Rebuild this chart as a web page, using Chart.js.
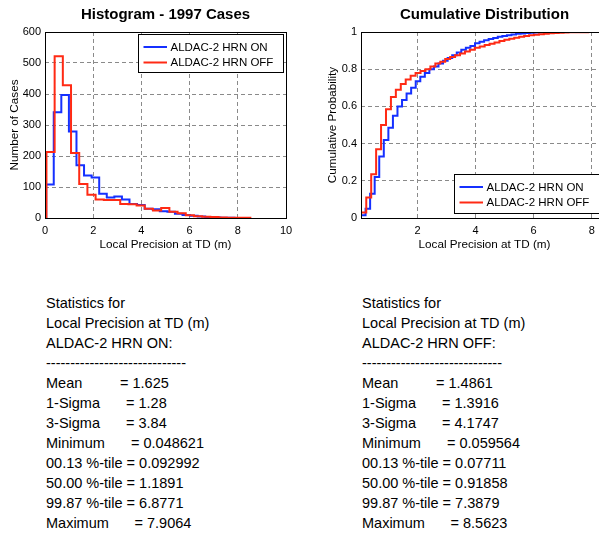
<!DOCTYPE html>
<html>
<head>
<meta charset="utf-8">
<script src="https://cdn.jsdelivr.net/npm/chart.js@4"></script>
<style>
  html, body { margin: 0; padding: 0; background: #fff; overflow: hidden; width: 599px; height: 533px; }
  body { position: relative; font-family: "Liberation Sans", Arial, sans-serif; }
  canvas { position: absolute; top: 0; }
  #hist { left: 0; }
  #cdf { left: 300px; }
  .stats { position: absolute; top: 293px; font-size: 14.5px; line-height: 20px; color: #000; }
  .stats div { position: relative; white-space: pre; height: 20px; }
  .stats .eq { position: absolute; top: 0; }
</style>
</head>
<body>
<canvas id="hist" width="300" height="260"></canvas>
<canvas id="cdf" width="320" height="260"></canvas>
<div class="stats" id="statsOn" style="left:46px"></div>
<div class="stats" id="statsOff" style="left:362px"></div>
<script>
// series names
const seriesNames = ["ALDAC-2 HRN ON", "ALDAC-2 HRN OFF"];

// histogram, 25 bins each (bin edges + counts)
const onEdges = [0.049, 0.363, 0.677, 0.992, 1.306, 1.620, 1.935, 2.249, 2.563, 2.877, 3.192, 3.506, 3.820, 4.135, 4.449, 4.763, 5.078, 5.392, 5.706, 6.021, 6.335, 6.649, 6.963, 7.278, 7.592, 7.906];
const onCounts = [108, 341, 397, 279, 170, 137, 131, 78, 66, 69, 60, 45, 42, 30, 28, 22, 20, 14, 10, 7, 5, 3, 2, 1, 1];
const offEdges = [0.060, 0.400, 0.740, 1.080, 1.420, 1.760, 2.100, 2.440, 2.781, 3.121, 3.461, 3.801, 4.141, 4.481, 4.821, 5.161, 5.501, 5.841, 6.181, 6.521, 6.861, 7.201, 7.541, 7.881, 8.222, 8.562];
const offCounts = [213, 522, 428, 210, 110, 75, 60, 58, 58, 45, 44, 40, 30, 24, 32, 20, 15, 9, 6, 4, 3, 2, 1, 1, 1];

// cumulative distribution steps
const onCdfX = [0.049, 0.206, 0.363, 0.520, 0.677, 0.834, 0.992, 1.149, 1.306, 1.463, 1.620, 1.777, 1.935, 2.092, 2.249, 2.406, 2.563, 2.720, 2.877, 3.035, 3.192, 3.349, 3.506, 3.663, 3.820, 3.978, 4.135, 4.292, 4.449, 4.606, 4.763, 4.920, 5.078, 5.235, 5.392, 5.549, 5.706, 5.863, 6.021, 6.178, 6.335, 6.492, 6.649, 6.806, 6.963, 7.121, 7.278, 7.435, 7.592, 7.749, 7.906];
const onCdfP = [0.015, 0.05, 0.13, 0.22, 0.33, 0.42, 0.485, 0.55, 0.60, 0.635, 0.67, 0.70, 0.735, 0.76, 0.78, 0.80, 0.815, 0.83, 0.845, 0.86, 0.875, 0.89, 0.905, 0.915, 0.925, 0.94, 0.948, 0.955, 0.962, 0.968, 0.974, 0.979, 0.983, 0.987, 0.99, 0.992, 0.994, 0.996, 0.997, 0.998, 0.9985, 0.999, 0.999, 0.9995, 0.9995, 0.9995, 0.9995, 1, 1, 1, 1];
const offCdfX = [0.060, 0.230, 0.400, 0.570, 0.740, 0.910, 1.080, 1.250, 1.420, 1.590, 1.760, 1.930, 2.100, 2.270, 2.440, 2.611, 2.781, 2.951, 3.121, 3.291, 3.461, 3.631, 3.801, 3.971, 4.141, 4.311, 4.481, 4.651, 4.821, 4.991, 5.161, 5.331, 5.501, 5.671, 5.841, 6.011, 6.181, 6.351, 6.521, 6.691, 6.861, 7.031, 7.201, 7.371, 7.541, 7.711, 7.881, 8.052, 8.222, 8.392, 8.562];
const offCdfP = [0.03, 0.11, 0.235, 0.37, 0.50, 0.585, 0.65, 0.69, 0.72, 0.745, 0.765, 0.78, 0.79, 0.80, 0.815, 0.83, 0.84, 0.855, 0.865, 0.875, 0.885, 0.895, 0.905, 0.915, 0.922, 0.93, 0.937, 0.944, 0.951, 0.958, 0.964, 0.969, 0.974, 0.978, 0.982, 0.985, 0.988, 0.991, 0.993, 0.995, 0.996, 0.997, 0.998, 0.9985, 0.999, 0.999, 0.9995, 0.9995, 0.9995, 1, 1];

// tick labels
const histXTicks = [0, 2, 4, 6, 8, 10];
const histYTicks = [0, 100, 200, 300, 400, 500, 600];
const cdfXTicks = [2, 4, 6, 8];
const cdfYTicks = [0, 0.2, 0.4, 0.6, 0.8, 1];

// statistics text
const statLabels = ["Mean", "1-Sigma", "3-Sigma", "Minimum", "00.13 %-tile", "50.00 %-tile", "99.87 %-tile", "Maximum"];
const onStats = ["1.625", "1.28", "3.84", "0.048621", "0.092992", "1.1891", "6.8771", "7.9064"];
const offStats = ["1.4861", "1.3916", "4.1747", "0.059564", "0.07711", "0.91858", "7.3879", "8.5623"];

const BLUE = "#1530ff";
const RED = "#ff2a14";
const FONT = "'Liberation Sans', Arial, sans-serif";

function histPoints(edges, counts) {
  const pts = [{ x: edges[0], y: 0 }];
  counts.forEach((c, i) => pts.push({ x: edges[i], y: c }));
  pts.push({ x: edges[edges.length - 1], y: counts[counts.length - 1] });
  return pts;
}

function cdfPoints(xs, ps) {
  return xs.map((x, i) => ({ x: x, y: ps[i] }));
}

// black box round the plot area + legend box
const framePlugin = {
  id: "frame",
  afterDraw(chart, args, opts) {
    const ctx = chart.ctx;
    const a = chart.chartArea;
    ctx.save();
    ctx.strokeStyle = "#000";
    ctx.lineWidth = 1;
    ctx.strokeRect(Math.round(a.left) + 0.5, Math.round(a.top) + 0.5, Math.round(a.right - a.left), Math.round(a.bottom - a.top));

    // legend
    const bx = opts.fromRight ? a.right - opts.offX - opts.w : a.left + opts.offX;
    const by = opts.fromBottom ? a.bottom - opts.offY - opts.h : a.top + opts.offY;
    ctx.fillStyle = "#fff";
    ctx.fillRect(bx, by, opts.w, opts.h);
    ctx.strokeRect(Math.round(bx) + 0.5, Math.round(by) + 0.5, Math.round(opts.w), Math.round(opts.h));
    ctx.font = "11.5px " + FONT;
    ctx.textBaseline = "middle";
    chart.data.datasets.forEach((ds, i) => {
      const y = by + 13 + i * 15.5;
      ctx.strokeStyle = ds.borderColor;
      ctx.lineWidth = 2;
      ctx.beginPath();
      ctx.moveTo(bx + 5.5, y);
      ctx.lineTo(bx + 29, y);
      ctx.stroke();
      ctx.fillStyle = "#000";
      ctx.fillText(ds.label, bx + 32.5, y + 0.5);
    });
    ctx.restore();
  }
};

function axis(opts, pad) {
  return Object.assign({
    type: "linear",
    border: { display: false, dash: [4, 3] },
    grid: { color: "#8a8a8a", lineWidth: 1, drawTicks: false },
    ticks: { color: "#000", font: { family: FONT, size: 11 }, padding: pad, autoSkip: false, maxRotation: 0, callback: (v) => String(v) }
  }, opts);
}

function makeChart(id, cfg) {
  const t = cfg.ticks;
  new Chart(document.getElementById(id), {
    type: "line",
    data: {
      datasets: [
        { label: seriesNames[0], data: cfg.on, borderColor: BLUE, borderWidth: 2, pointRadius: 0, stepped: true, fill: false, order: 2 },
        { label: seriesNames[1], data: cfg.off, borderColor: RED, borderWidth: 2, pointRadius: 0, stepped: true, fill: false, order: 1 }
      ]
    },
    options: {
      responsive: false,
      animation: false,
      layout: { padding: { left: 0, right: cfg.padRight, top: 0, bottom: 0 } },
      plugins: {
        legend: { display: false },
        tooltip: { enabled: false },
        title: { display: true, text: cfg.title, fullSize: false, color: "#000", font: { family: FONT, size: 15, weight: "bold" }, padding: { top: 6, bottom: 8 } },
        frame: cfg.legend
      },
      scales: {
        x: axis({
          min: cfg.xMin, max: cfg.xMax,
          afterBuildTicks: (s) => { s.ticks = t.x.map((v) => ({ value: v })); },
          afterFit: (s) => { s.height = 42; },
          title: { display: true, text: "Local Precision at TD (m)", color: "#000", font: { family: FONT, size: 11.7 }, padding: { top: 0, bottom: 8 } }
        }, 6),
        y: axis({
          min: cfg.yMin, max: cfg.yMax,
          afterBuildTicks: (s) => { s.ticks = t.y.map((v) => ({ value: v })); },
          afterFit: (s) => { s.width = cfg.yWidth; },
          title: { display: true, text: cfg.yTitle, color: "#000", font: { family: FONT, size: 11.7 }, padding: { top: cfg.yTitlePad, bottom: 0 } }
        }, 4)
      }
    },
    plugins: [framePlugin]
  });
}

makeChart("hist", {
  title: "Histogram - 1997 Cases",
  on: histPoints(onEdges, onCounts),
  off: histPoints(offEdges, offCounts),
  ticks: { x: histXTicks, y: histYTicks },
  xMin: 0, xMax: 10, yMin: 0, yMax: 600,
  yWidth: 45, yTitlePad: 8, padRight: 14,
  yTitle: "Number of Cases",
  legend: { fromRight: true, fromBottom: false, offX: 3, offY: 2, w: 145, h: 38 }
});

makeChart("cdf", {
  title: "Cumulative Distribution",
  on: cdfPoints(onCdfX, onCdfP),
  off: cdfPoints(offCdfX, offCdfP),
  ticks: { x: cdfXTicks, y: cdfYTicks },
  xMin: 0.048621, xMax: 8.5623, yMin: 0, yMax: 1,
  yWidth: 61, yTitlePad: 26, padRight: 12,
  yTitle: "Cumulative Probability",
  legend: { fromRight: false, fromBottom: true, offX: 93, offY: 5, w: 151, h: 39 }
});

// statistics blocks below the plots
const eqOffsets = { "Mean": 74, "1-Sigma": 80, "3-Sigma": 80, "Minimum": 85, "Maximum": 88.5 };

function fillStats(el, name, values) {
  const lines = ["Statistics for", "Local Precision at TD (m)", name + ":", "-----------------------------"];
  lines.forEach((txt) => {
    const d = document.createElement("div");
    d.textContent = txt;
    el.appendChild(d);
  });
  statLabels.forEach((lab, i) => {
    const d = document.createElement("div");
    if (eqOffsets[lab] !== undefined) {
      d.textContent = lab;
      const eq = document.createElement("span");
      eq.className = "eq";
      eq.style.left = eqOffsets[lab] + "px";
      eq.textContent = "= " + values[i];
      d.appendChild(eq);
    } else {
      d.textContent = lab + " = " + values[i];
    }
    el.appendChild(d);
  });
}

fillStats(document.getElementById("statsOn"), seriesNames[0], onStats);
fillStats(document.getElementById("statsOff"), seriesNames[1], offStats);
</script>
</body>
</html>
